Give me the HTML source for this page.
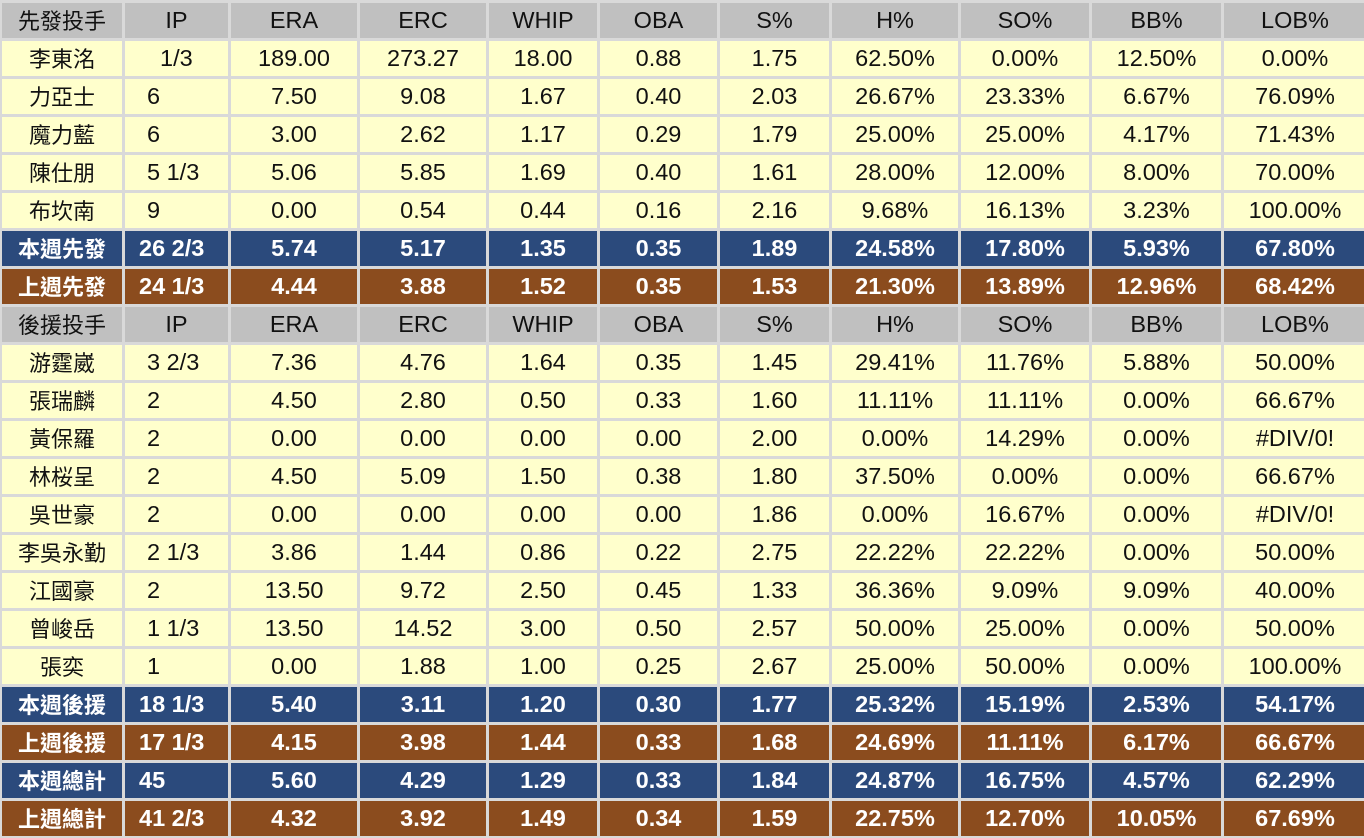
<!DOCTYPE html>
<html><head><meta charset="utf-8">
<style>
html,body{margin:0;padding:0;background:#d9d9d9;width:1364px;height:838px;overflow:hidden}
.g{display:grid;grid-template-columns:120px 103px 126px 126px 108px 117px 109px 126px 128px 129px 142px;grid-auto-rows:35px;gap:3px;padding:3px 0 0 2px;font-family:"Liberation Sans","Noto Sans CJK TC",sans-serif;font-size:23.5px}
.g div{display:flex;align-items:center;justify-content:center;color:#111;white-space:pre;line-height:1}
.g div:nth-child(1){font-size:22px;padding-top:3px;box-sizing:border-box}
.h div{background:#c0c0c0}
.y div{background:#ffffcc}
.b div{background:#2b4a7c;color:#fff;font-weight:bold}
.o div{background:#8b4c1e;color:#fff;font-weight:bold}
.y div:nth-child(2){justify-content:flex-start;padding-left:22px}
.b div:nth-child(2),.o div:nth-child(2){justify-content:flex-start;padding-left:14px}
.r{display:contents}
</style></head><body>
<div class="g" id="g"></div>
<script>
const rows=[
["h","先發投手","IP","ERA","ERC","WHIP","OBA","S%","H%","SO%","BB%","LOB%"],
["y","李東洺","  1/3","189.00","273.27","18.00","0.88","1.75","62.50%","0.00%","12.50%","0.00%"],
["y","力亞士","6","7.50","9.08","1.67","0.40","2.03","26.67%","23.33%","6.67%","76.09%"],
["y","魔力藍","6","3.00","2.62","1.17","0.29","1.79","25.00%","25.00%","4.17%","71.43%"],
["y","陳仕朋","5 1/3","5.06","5.85","1.69","0.40","1.61","28.00%","12.00%","8.00%","70.00%"],
["y","布坎南","9","0.00","0.54","0.44","0.16","2.16","9.68%","16.13%","3.23%","100.00%"],
["b","本週先發","26 2/3","5.74","5.17","1.35","0.35","1.89","24.58%","17.80%","5.93%","67.80%"],
["o","上週先發","24 1/3","4.44","3.88","1.52","0.35","1.53","21.30%","13.89%","12.96%","68.42%"],
["h","後援投手","IP","ERA","ERC","WHIP","OBA","S%","H%","SO%","BB%","LOB%"],
["y","游霆崴","3 2/3","7.36","4.76","1.64","0.35","1.45","29.41%","11.76%","5.88%","50.00%"],
["y","張瑞麟","2","4.50","2.80","0.50","0.33","1.60","11.11%","11.11%","0.00%","66.67%"],
["y","黃保羅","2","0.00","0.00","0.00","0.00","2.00","0.00%","14.29%","0.00%","#DIV/0!"],
["y","林桜呈","2","4.50","5.09","1.50","0.38","1.80","37.50%","0.00%","0.00%","66.67%"],
["y","吳世豪","2","0.00","0.00","0.00","0.00","1.86","0.00%","16.67%","0.00%","#DIV/0!"],
["y","李吳永勤","2 1/3","3.86","1.44","0.86","0.22","2.75","22.22%","22.22%","0.00%","50.00%"],
["y","江國豪","2","13.50","9.72","2.50","0.45","1.33","36.36%","9.09%","9.09%","40.00%"],
["y","曾峻岳","1 1/3","13.50","14.52","3.00","0.50","2.57","50.00%","25.00%","0.00%","50.00%"],
["y","張奕","1","0.00","1.88","1.00","0.25","2.67","25.00%","50.00%","0.00%","100.00%"],
["b","本週後援","18 1/3","5.40","3.11","1.20","0.30","1.77","25.32%","15.19%","2.53%","54.17%"],
["o","上週後援","17 1/3","4.15","3.98","1.44","0.33","1.68","24.69%","11.11%","6.17%","66.67%"],
["b","本週總計","45","5.60","4.29","1.29","0.33","1.84","24.87%","16.75%","4.57%","62.29%"],
["o","上週總計","41 2/3","4.32","3.92","1.49","0.34","1.59","22.75%","12.70%","10.05%","67.69%"]];
let h="";for(const r of rows){h+='<span class="r '+r[0]+'">';for(let i=1;i<r.length;i++)h+='<div>'+r[i]+'</div>';h+='</span>';}
document.getElementById('g').innerHTML=h;
</script>
</body></html>
